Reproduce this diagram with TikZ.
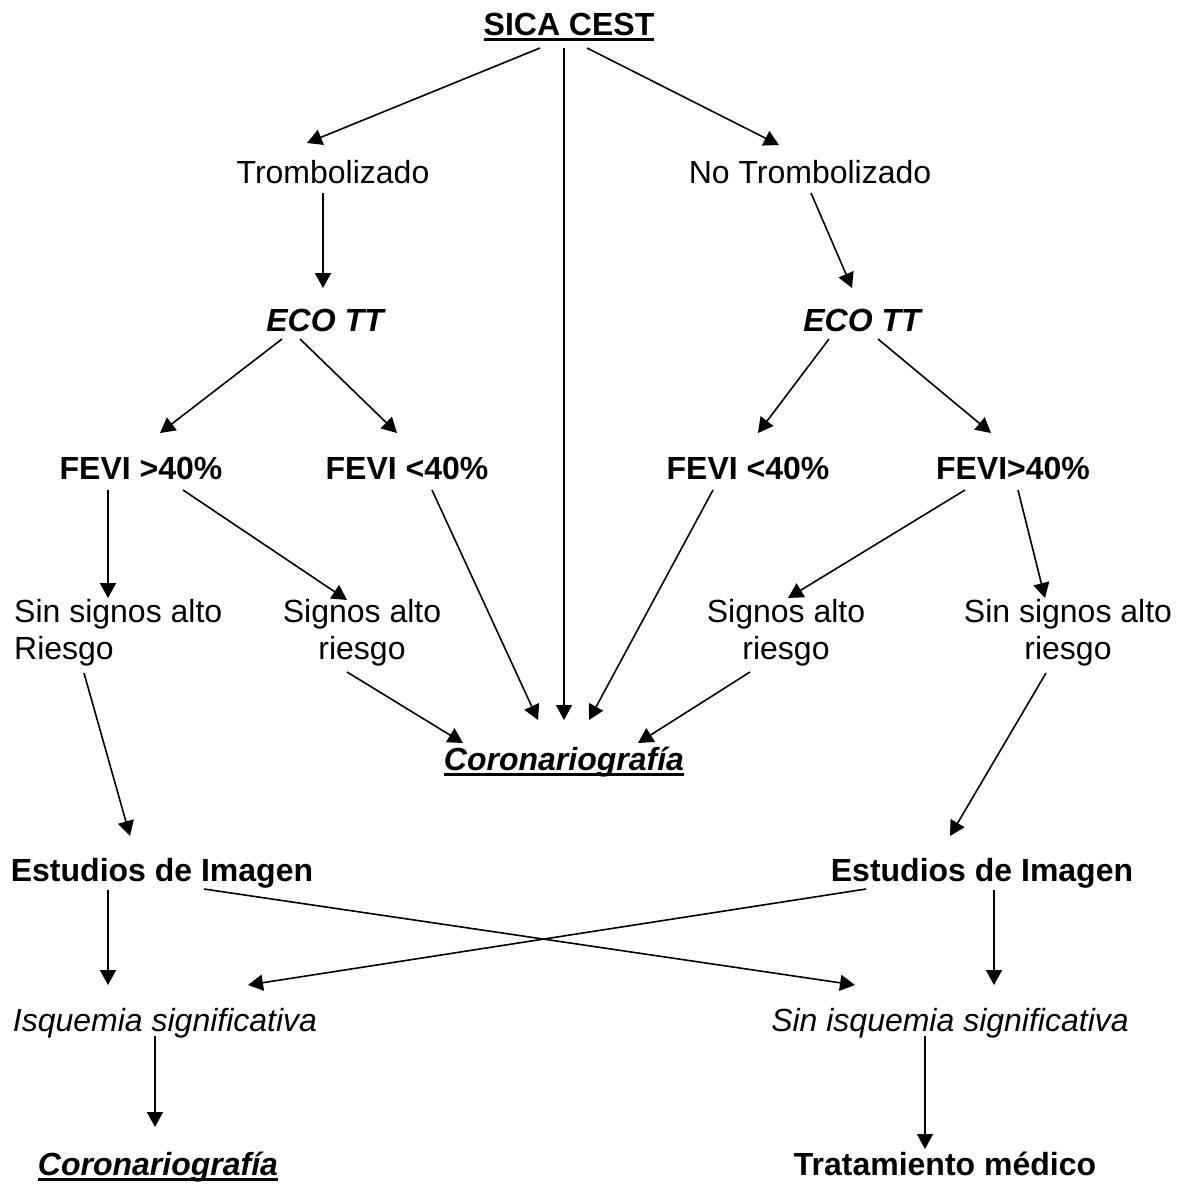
\documentclass[tikz,border=0pt]{standalone}
\usepackage{fontspec}
\setmainfont{Liberation Sans}
\usetikzlibrary{arrows.meta}
\newcommand\ulx[1]{\setbox0=\hbox{#1}\rlap{\copy0}\rule[-6pt]{\wd0}{3pt}}
\begin{document}
\begin{tikzpicture}[x=1pt,y=-1pt,
  lbl/.style={inner sep=0pt, font=\fontsize{32}{37}\selectfont, anchor=base},
  two/.style={inner sep=0pt, font=\fontsize{32}{37}\selectfont, align=center, anchor=north},
  arr/.style={line width=1.6pt, -{Triangle[length=15pt,width=16pt]}}]
\useasboundingbox (0,0) rectangle (1178,1186);
% nodes
\node[lbl] (sica) at (569,35) {\bfseries\ulx{SICA CEST}};
\node[lbl] (tromb) at (333,183) {Trombolizado};
\node[lbl] (notromb) at (810,183) {No Trombolizado};
\node[lbl] (ecoL) at (325,331) {\bfseries\itshape ECO TT};
\node[lbl] (ecoR) at (862,331) {\bfseries\itshape ECO TT};
\node[lbl] (feviA) at (141,479) {\bfseries FEVI >40\%};
\node[lbl] (feviB) at (407,479) {\bfseries FEVI <40\%};
\node[lbl] (feviC) at (748,479) {\bfseries FEVI <40\%};
\node[lbl] (feviD) at (1013,479) {\bfseries FEVI>40\%};
\node[two, align=left, anchor=north west] (sinL) at (14,599) {Sin signos alto\\Riesgo};
\node[two] (sigL) at (362,599) {Signos alto\\riesgo};
\node[two] (sigR) at (786,599) {Signos alto\\riesgo};
\node[two] (sinR) at (1068,599) {Sin signos alto\\riesgo};
\node[lbl] (coroM) at (564,770) {\bfseries\itshape\ulx{Coronariografía}};
\node[lbl] (estL) at (162,881) {\bfseries Estudios de Imagen};
\node[lbl] (estR) at (982,881) {\bfseries Estudios de Imagen};
\node[lbl] (isq) at (165,1031) {\itshape Isquemia significativa};
\node[lbl] (sinisq) at (950,1031) {\itshape Sin isquemia significativa};
\node[lbl] (coroB) at (158,1175) {\bfseries\itshape\ulx{Coronariografía}};
\node[lbl] (trat) at (945,1175) {\bfseries Tratamiento médico};
% connectors
\draw[arr] ([shift={(-29,13)}]sica.base) -- ([shift={(-26,-40)}]tromb.base);
\draw[arr] ([shift={(-5,13)}]sica.base) -- ([shift={(0,-50)}]coroM.base);
\draw[arr] ([shift={(18,13)}]sica.base) -- ([shift={(-31,-38)}]notromb.base);
\draw[arr] ([shift={(-10,10)}]tromb.base) -- ([shift={(-2,-43)}]ecoL.base);
\draw[arr] ([shift={(1,10)}]notromb.base) -- ([shift={(-10,-43)}]ecoR.base);
\draw[arr] ([shift={(-43,8)}]ecoL.base) -- ([shift={(19,-46)}]feviA.base);
\draw[arr] ([shift={(-25,8)}]ecoL.base) -- ([shift={(-10,-46)}]feviB.base);
\draw[arr] ([shift={(-33,8)}]ecoR.base) -- ([shift={(10,-46)}]feviC.base);
\draw[arr] ([shift={(16,8)}]ecoR.base) -- ([shift={(-22,-46)}]feviD.base);
\draw[arr] ([shift={(-33,11)}]feviA.base) -- ([shift={(94,-1)}]sinL.north west);
\draw[arr] ([shift={(42,11)}]feviA.base) -- ([shift={(-15,1)}]sigL.north);
\draw[arr] ([shift={(25,11)}]feviB.base) -- ([shift={(-26,-50)}]coroM.base);
\draw[arr] ([shift={(-35,11)}]feviC.base) -- ([shift={(25,-50)}]coroM.base);
\draw[arr] ([shift={(-15,73)}]sigL.north) -- ([shift={(-101,-27)}]coroM.base);
\draw[arr] ([shift={(-36,73)}]sigR.north) -- ([shift={(74,-27)}]coroM.base);
\draw[arr] ([shift={(-48,11)}]feviD.base) -- ([shift={(2,-1)}]sigR.north);
\draw[arr] ([shift={(5,11)}]feviD.base) -- ([shift={(-23,-1)}]sinR.north);
\draw[arr] ([shift={(70,74)}]sinL.north west) -- ([shift={(-32,-45)}]estL.base);
\draw[arr] ([shift={(-22,74)}]sinR.north) -- ([shift={(-32,-45)}]estR.base);
\draw[arr] ([shift={(-54,9)}]estL.base) -- ([shift={(-57,-46)}]isq.base);
\draw[arr] ([shift={(42,8)}]estL.base) -- ([shift={(-95,-46)}]sinisq.base);
\draw[arr] ([shift={(-116,8)}]estR.base) -- ([shift={(83,-46)}]isq.base);
\draw[arr] ([shift={(12,9)}]estR.base) -- ([shift={(44,-46)}]sinisq.base);
\draw[arr] ([shift={(-10,5)}]isq.base) -- ([shift={(-3,-48)}]coroB.base);
\draw[arr] ([shift={(-25,5)}]sinisq.base) -- ([shift={(-20,-26)}]trat.base);
\end{tikzpicture}
\end{document}
